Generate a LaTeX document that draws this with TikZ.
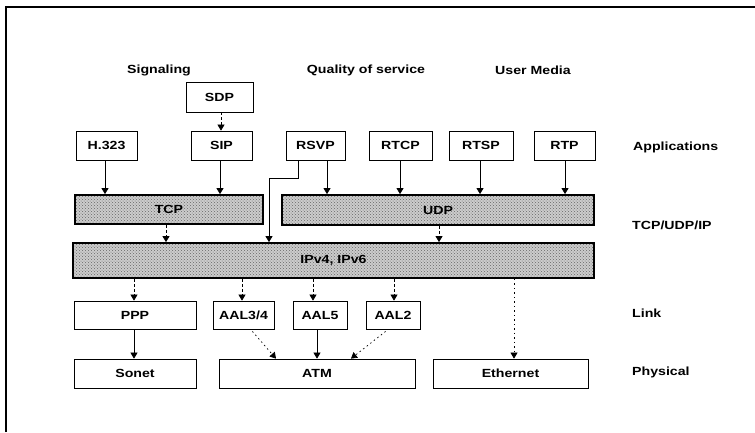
\documentclass[tikz,border=0pt]{standalone}
\usepackage{fontspec}
\setmainfont{Liberation Sans}[FakeStretch=1.2]
\usetikzlibrary{arrows.meta,patterns}
\begin{document}
\begin{tikzpicture}[x=1pt,y=-1pt,
  every node/.style={font=\fontsize{11.8}{13}\selectfont\bfseries},
  lbox/.style={draw,line width=0.8pt,inner sep=0pt},
  dbox/.style={draw,line width=1.8pt,inner sep=0pt,
    preaction={fill=black!20},pattern=crosshatch dots,pattern color=black!60},
  lab/.style={anchor=west,inner sep=0pt},
  arr/.style={line width=0.7pt,-{Triangle[width=7pt,length=6pt]}},
  darr/.style={arr,densely dashed},
  farr/.style={arr,dash pattern=on 1.5pt off 3pt}]
\useasboundingbox (0,0) rectangle (755,432);
\draw[line width=1.5pt] (6,432) -- (6,7) -- (755,7);

% column headings
\node (hsig) at (159,70) {Signaling};
\node (hqos) at (366,70) {Quality of service};
\node (hum)  at (533,70) {User Media};

% layer labels
\node[lab] (lapp)  at (633,147) {Applications};
\node[lab] (ltr)   at (632,225) {TCP/UDP/IP};
\node[lab] (llink) at (632,313) {Link};
\node[lab] (lphy)  at (632,372) {Physical};

% application boxes
\node[lbox,minimum width=67,minimum height=30] (sdp)  at (219.5,97)  {SDP};
\node[lbox,minimum width=61,minimum height=29] (h323) at (106.5,145.5) {H.323};
\node[lbox,minimum width=61,minimum height=29] (sip)  at (221.5,145.5) {SIP};
\node[lbox,minimum width=59,minimum height=29] (rsvp) at (315.5,145.5) {RSVP};
\node[lbox,minimum width=63,minimum height=29] (rtcp) at (400.5,145.5) {RTCP};
\node[lbox,minimum width=64,minimum height=29] (rtsp) at (481,145.5)  {RTSP};
\node[lbox,minimum width=61,minimum height=29] (rtp)  at (564.5,145.5) {RTP};

% transport and network
\node[dbox,minimum width=188,minimum height=29] (tcp) at (169,209.5) {TCP};
\node[dbox,minimum width=312,minimum height=30] (udp) at (438,210) {UDP};
\node[dbox,minimum width=521,minimum height=35] (ip)  at (333.5,260.5) {IPv4, IPv6};

% link
\node[lbox,minimum width=122,minimum height=28] (ppp)   at (135,315)   {PPP};
\node[lbox,minimum width=61,minimum height=28]  (aal34) at (243.5,315) {AAL3/4};
\node[lbox,minimum width=54,minimum height=28]  (aal5)  at (320,315)   {AAL5};
\node[lbox,minimum width=54,minimum height=28]  (aal2)  at (393,315)   {AAL2};

% physical
\node[lbox,minimum width=122,minimum height=29] (sonet) at (135,373.5)   {Sonet};
\node[lbox,minimum width=196,minimum height=29] (atm)   at (317,373.5)   {ATM};
\node[lbox,minimum width=155,minimum height=29] (eth)   at (510.5,373.5) {Ethernet};

\coordinate (rbend1) at (298,178);
\coordinate (rbend2) at (269,178);

% connectors
\draw[darr] (sdp.south -| 221,0) -- (sip.north -| 221,0);
\draw[arr] (h323.south -| 105,0) -- (tcp.north -| 105,0);
\draw[arr] (sip.south -| 220,0) -- (tcp.north -| 220,0);
\draw[arr] (rsvp.south -| 327,0) -- (udp.north -| 327,0);
\draw[arr] (rsvp.south -| rbend1) -- (rbend1) -- (rbend2) -- (ip.north -| rbend2);
\draw[arr] (rtcp.south -| 400,0) -- (udp.north -| 400,0);
\draw[arr] (rtsp.south -| 480,0) -- (udp.north -| 480,0);
\draw[arr] (rtp.south -| 565,0) -- (udp.north -| 565,0);
\draw[darr] (tcp.south -| 166,0) -- (ip.north -| 166,0);
\draw[darr] (udp.south -| 439,0) -- (ip.north -| 439,0);
\draw[darr] (ip.south -| 134,0) -- (ppp.north -| 134,0);
\draw[darr] (ip.south -| 242,0) -- (aal34.north -| 242,0);
\draw[darr] (ip.south -| 313,0) -- (aal5.north -| 313,0);
\draw[darr] (ip.south -| 394,0) -- (aal2.north -| 394,0);
\draw[farr] (ip.south -| 514,0) -- (eth.north -| 514,0);
\draw[arr] (ppp.south -| 134,0) -- (sonet.north -| 134,0);
\draw[arr] (aal5.south -| 317,0) -- (atm.north -| 317,0);
\draw[farr] (aal34.south east) ++(-22,2) -- (atm.north -| 276,0);
\draw[farr] (aal2.south west) ++(20,2) -- (atm.north -| 351,0);
\end{tikzpicture}
\end{document}
